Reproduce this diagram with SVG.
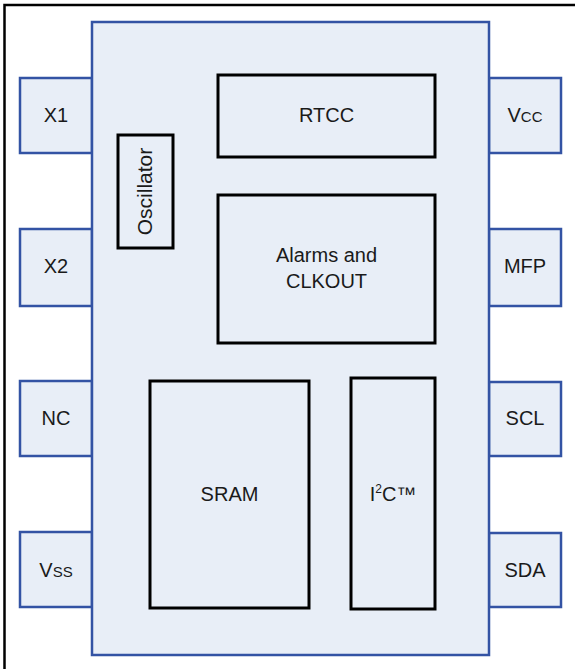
<svg xmlns="http://www.w3.org/2000/svg" width="575" height="669" viewBox="0 0 575 669">
<style>
.frame{fill:#ffffff;stroke:#000000;stroke-width:2.5}
.pin,.chip{fill:#e8eef7;stroke:#3353a4;stroke-width:2.5}
.blk{fill:#e8eef7;stroke:#000000;stroke-width:3}
text{font-family:"Liberation Sans",Arial,sans-serif;font-size:20px;fill:#1a1a1a;text-anchor:middle}
.sm{font-size:15px}
.sup{font-size:12px}
</style>
<rect class="frame" x="4.5" y="5" width="590" height="690"/>
<g id="pins">
<g id="pin-x1"><rect class="pin" x="20" y="78" width="72" height="75"/><text x="56" y="122">X1</text></g>
<g id="pin-x2"><rect class="pin" x="20" y="229" width="72" height="77"/><text x="56" y="273">X2</text></g>
<g id="pin-nc"><rect class="pin" x="20" y="381" width="72" height="75"/><text x="56" y="425">NC</text></g>
<g id="pin-vss"><rect class="pin" x="20" y="532" width="72" height="75"/><text x="56" y="577">V<tspan class="sm">SS</tspan></text></g>
<g id="pin-vcc"><rect class="pin" x="489" y="78" width="72" height="75"/><text x="525" y="122">V<tspan class="sm">CC</tspan></text></g>
<g id="pin-mfp"><rect class="pin" x="489" y="229" width="72" height="77"/><text x="525" y="273">MFP</text></g>
<g id="pin-scl"><rect class="pin" x="489" y="382" width="72" height="74"/><text x="525" y="425">SCL</text></g>
<g id="pin-sda"><rect class="pin" x="489" y="533" width="72" height="74"/><text x="525" y="577">SDA</text></g>
</g>
<g id="chip"><rect class="chip" x="92" y="22" width="397" height="633"/></g>
<g id="oscillator"><rect class="blk" x="118" y="135" width="55" height="113"/><text transform="translate(152,191.5) rotate(-90)" style="font-size:21px">Oscillator</text></g>
<g id="rtcc"><rect class="blk" x="218" y="75" width="217" height="82"/><text x="326.5" y="122">RTCC</text></g>
<g id="alarms"><rect class="blk" x="218" y="195" width="217" height="148"/><text x="326.5" y="262">Alarms and</text><text x="326.5" y="288">CLKOUT</text></g>
<g id="sram"><rect class="blk" x="150" y="381" width="159" height="227"/><text x="229.5" y="501">SRAM</text></g>
<g id="i2c"><rect class="blk" x="351" y="378" width="84" height="231"/><text x="393" y="501">I<tspan class="sup" dy="-8">2</tspan><tspan dy="8">C™</tspan></text></g>
<g id="connectors"></g>
</svg>
